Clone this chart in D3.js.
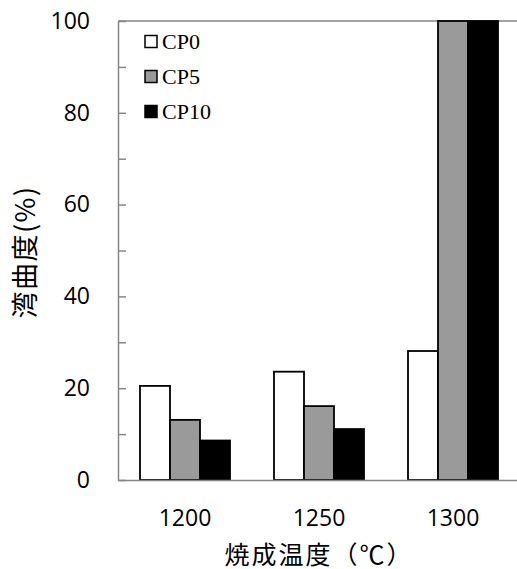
<!DOCTYPE html>
<html>
<head>
<meta charset="utf-8">
<script src="https://cdn.jsdelivr.net/npm/d3@7"></script>
<style>
  body { margin: 0; background: #fff; }
  .axis text { font-family: "Open Sans", sans-serif; font-size: 23px; fill: #000; }
  .axis path, .axis line { stroke: #868686; stroke-width: 1.5; }
  .title { font-family: "Noto Sans CJK JP", sans-serif; fill: #000; }
  .legend text { font-family: "Liberation Serif", serif; font-size: 22px; fill: #000; }
</style>
</head>
<body>
<svg width="517" height="569"></svg>
<script>

var temps = ["1200", "1250", "1300"];
var series = ["CP0", "CP5", "CP10"];
var cp0 = [20.5, 23.6, 28.1];
var cp5 = [13.1, 16.1, 100];
var cp10 = [8.6, 11.1, 100];
var colors = ["#ffffff", "#9a9a9a", "#000000"];
var yTicks = [0, 10, 20, 30, 40, 50, 60, 70, 80, 90, 100];

var svg = d3.select("svg"),
    pLeft = 118, pRight = 520, pTop = 21, pBottom = 480;

var values = [cp0, cp5, cp10];
var data = temps.map(function(t, i) {
  return { temp: t, vals: series.map(function(s, j) { return { key: s, v: values[j][i], c: colors[j] }; }) };
});

var x = d3.scaleBand()
    .domain(temps)
    .range([pLeft, pRight])
    .paddingInner(44 / 134)
    .paddingOuter(22 / 134);

var x1 = d3.scaleBand()
    .domain(series)
    .range([0, x.bandwidth()]);

var y = d3.scaleLinear()
    .domain([0, 100])
    .range([pBottom, pTop]);

// frame top
svg.append("line")
    .attr("x1", pLeft).attr("x2", pRight)
    .attr("y1", pTop).attr("y2", pTop)
    .attr("stroke", "#868686").attr("stroke-width", 1.5);

// bars
var groups = svg.selectAll("g.grp")
  .data(data)
  .enter().append("g")
    .attr("class", "grp")
    .attr("transform", function(d) { return "translate(" + x(d.temp) + ",0)"; });

groups.selectAll("rect")
  .data(function(d) { return d.vals; })
  .enter().append("rect")
    .attr("x", function(d) { return x1(d.key); })
    .attr("y", function(d) { return y(d.v); })
    .attr("width", x1.bandwidth())
    .attr("height", function(d) { return y(0) - y(d.v); })
    .attr("fill", function(d) { return d.c; })
    .attr("stroke", "#000")
    .attr("stroke-width", 1.8);

svg.append("g")
    .attr("class", "axis")
    .attr("transform", "translate(" + pLeft + ",0)")
    .call(d3.axisLeft(y)
        .tickValues(yTicks)
        .tickSizeInner(-8)
        .tickSizeOuter(0)
        .tickPadding(28)
        .tickFormat(function(d) { return d % 20 === 0 ? d : ""; }));

svg.append("g")
    .attr("class", "axis")
    .attr("transform", "translate(0," + pBottom + ")")
    .call(d3.axisBottom(x).tickSize(0).tickPadding(30));

svg.append("text")
    .attr("class", "title")
    .attr("x", 319)
    .attr("y", 564)
    .attr("text-anchor", "middle")
    .style("font-size", "25px")
    .style("letter-spacing", "2px")
    .text("焼成温度（℃）");

svg.append("text")
    .attr("class", "title")
    .attr("transform", "translate(23,252) rotate(-90)")
    .attr("text-anchor", "middle")
    .attr("dominant-baseline", "central")
    .style("font-size", "27px")
    .style("letter-spacing", "1.5px")
    .text("湾曲度(%)");

// legend
var legend = svg.append("g")
    .attr("class", "legend")
  .selectAll("g")
  .data(series)
  .enter().append("g")
    .attr("transform", function(d, i) { return "translate(145," + (41.5 + i * 35) + ")"; });

legend.append("rect")
    .attr("x", 0).attr("y", -6)
    .attr("width", 12).attr("height", 12)
    .attr("fill", function(d, i) { return colors[i]; })
    .attr("stroke", "#000")
    .attr("stroke-width", 1.5);

legend.append("text")
    .attr("x", 17)
    .attr("y", 7.5)
    .text(function(d) { return d; });

</script>
</body>
</html>
